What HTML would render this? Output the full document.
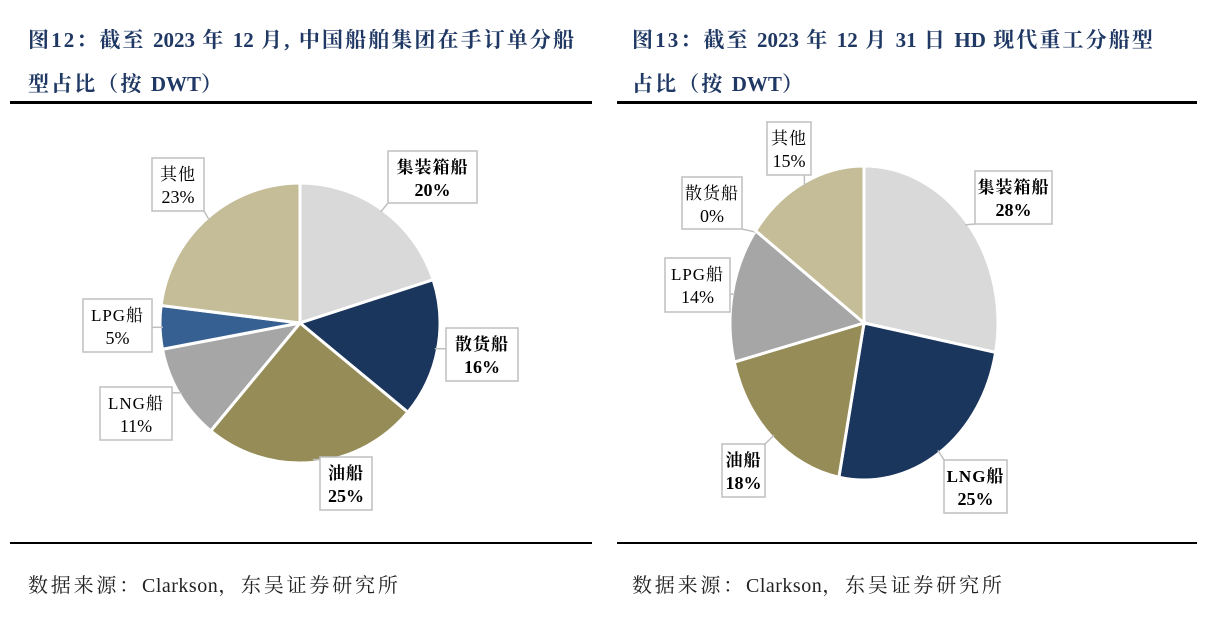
<!DOCTYPE html>
<html><head><meta charset="utf-8"><style>
body{margin:0;width:1224px;height:618px;background:#fff;overflow:hidden;position:relative;font-family:"Liberation Serif","Noto Serif CJK SC",serif}
.t{position:absolute;color:#1f3864;font-weight:bold;font-size:21px;letter-spacing:2.1px;font-family:"Liberation Serif","Noto Serif CJK SC",serif;white-space:nowrap}
.t .l{letter-spacing:0}
.rule{position:absolute;height:3px;background:#000}
.thin{position:absolute;height:2px;background:#000}
.src{position:absolute;font-size:20px;letter-spacing:2.8px;color:#222;top:569px;white-space:nowrap}
.src .l{letter-spacing:0.5px}
</style></head><body>
<div class="t" style="left:28px;top:24px">图12：截至 <span class="l">2023</span> 年 <span class="l">12</span> 月, 中国船舶集团在手订单分船</div>
<div class="t" style="left:28px;top:68px">型占比（按 <span class="l">DWT</span>）</div>
<div class="rule" style="left:10px;top:101px;width:582px"></div>
<div class="t" style="left:632px;top:24px">图13：截至 <span class="l">2023</span> 年 <span class="l">12</span> 月 <span class="l">31</span> 日 <span class="l">HD</span> 现代重工分船型</div>
<div class="t" style="left:632px;top:68px">占比（按 <span class="l">DWT</span>）</div>
<div class="rule" style="left:617px;top:101px;width:580px"></div>
<div class="thin" style="left:10px;top:542px;width:582px"></div>
<div class="thin" style="left:617px;top:542px;width:580px"></div>
<div class="src" style="left:28px">数据来源：<span class="l">Clarkson</span>，东吴证券研究所</div>
<div class="src" style="left:632px">数据来源：<span class="l">Clarkson</span>，东吴证券研究所</div>
<svg id="s" width="1224" height="618" style="position:absolute;left:0;top:0"></svg>
<script>
const leftCats=["集装箱船","散货船","油船","LNG船","LPG船","其他"];
const leftVals=[20,16,25,11,5,23];
const leftColors=["#d9d9d9","#1b365d","#968c58","#a6a6a6","#376092","#c4bd97"];
const leftBold=[1,1,1,0,0,0];
const rightCats=["集装箱船","LNG船","油船","LPG船","散货船","其他"];
const rightVals=[28,25,18,14,0,15];
const rightColors=["#d9d9d9","#1b365d","#968c58","#a6a6a6","#376092","#c4bd97"];
const rightBold=[1,1,1,0,0,0];
const leftBoxes=[[388,151,89,52],[446,328,72,53],[320,457,52,53],[100,387,72,53],[83,299,69,53],[152,158,52,53]];
const rightBoxes=[[975,171,77,53],[944,460,63,53],[722,444,43,53],[665,258,65,54],[682,177,60,52],[767,122,44,53]];
const NS="http://www.w3.org/2000/svg";
const svg=document.getElementById('s');
function mk(t,a){const e=document.createElementNS(NS,t);for(const k in a)e.setAttribute(k,a[k]);return e;}
function pie(cx,cy,rx,ry,cats,vals,colors,bold,boxes,side){
  const tot=vals.reduce((a,b)=>a+b,0);let a0=0;
  const g=mk('g',{});
  
  
  svg.appendChild(g);
  vals.forEach((v,i)=>{
    const a1=a0+v/tot*2*Math.PI;
    const am=(a0+a1)/2;
    if(v>0){
      const x0=cx+rx*Math.sin(a0),y0=cy-ry*Math.cos(a0),x1=cx+rx*Math.sin(a1),y1=cy-ry*Math.cos(a1);
      const large=(a1-a0)>Math.PI?1:0;
      const p=mk('path',{d:`M${cx},${cy}L${x0},${y0}A${rx},${ry} 0 ${large} 1 ${x1},${y1}Z`,fill:colors[i],stroke:'#fff','stroke-width':3});
      
      
      g.appendChild(p);
    }
    const b=boxes[i];
    const ex=cx+rx*0.98*Math.sin(am),ey=cy-ry*0.98*Math.cos(am);
    const bx=Math.max(b[0],Math.min(b[0]+b[2],ex)),by=Math.max(b[1],Math.min(b[1]+b[3],ey));
    g.appendChild(mk('line',{x1:bx,y1:by,x2:ex,y2:ey,stroke:'#bfbfbf','stroke-width':1.5}));
    const r=mk('rect',{x:b[0],y:b[1],width:b[2],height:b[3],fill:'#fff',stroke:'#bfbfbf','stroke-width':1.5});
    
    
    g.appendChild(r);
    const fw=bold[i]?'bold':'normal';
    const t1=mk('text',{x:b[0]+b[2]/2,y:b[1]+22,'text-anchor':'middle','font-size':17,'letter-spacing':1,'font-weight':fw,fill:'#000','font-family':'"Liberation Serif","Noto Serif CJK SC",serif'});
    t1.textContent=cats[i];
    
    
    g.appendChild(t1);
    const t2=mk('text',{x:b[0]+b[2]/2,y:b[1]+45,'text-anchor':'middle','font-size':18,'font-weight':fw,fill:'#000','font-family':'"Liberation Serif",serif'});
    t2.textContent=vals[i]+'%';
    
    
    g.appendChild(t2);
    a0=a1;
  });
}
pie(300,323,140,140,leftCats,leftVals,leftColors,leftBold,leftBoxes,'left');
pie(864,323,134,157,rightCats,rightVals,rightColors,rightBold,rightBoxes,'right');
</script>
</body></html>
